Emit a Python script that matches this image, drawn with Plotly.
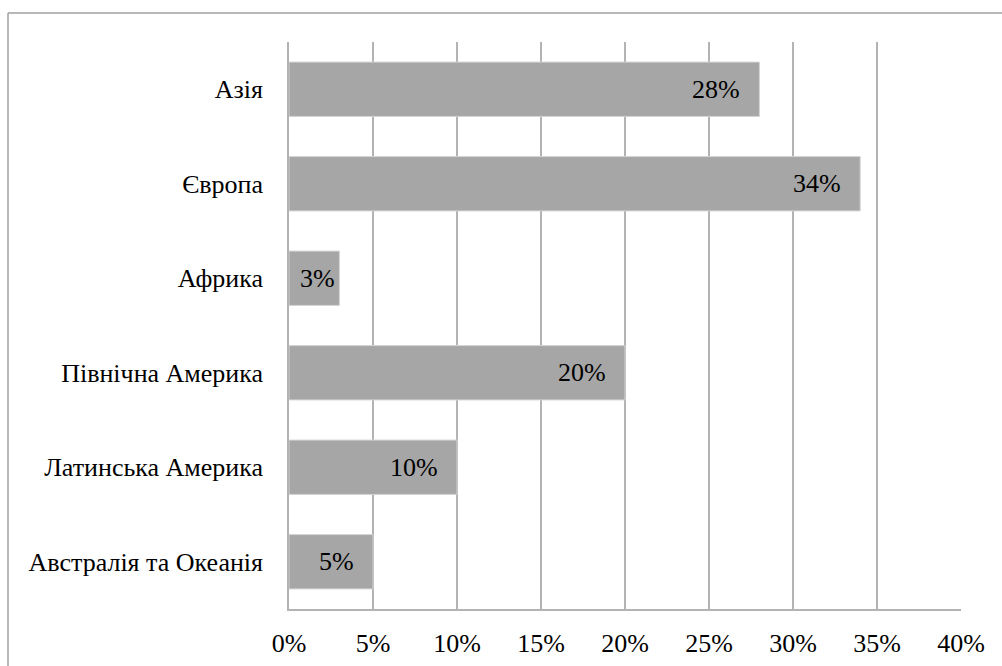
import plotly.graph_objects as go

# Share of each region (percent)
regions = ["Азія", "Європа", "Африка", "Північна Америка",
           "Латинська Америка", "Австралія та Океанія"]
shares = [28, 34, 3, 20, 10, 5]

x_ticks = [0, 5, 10, 15, 20, 25, 30, 35, 40]
x_tick_labels = [f"{v}%" for v in x_ticks]

FONT = "'Times New Roman', 'Liberation Serif', 'DejaVu Serif', serif"
FS = 26
GRID = "#b3b3b3"

W, H = 1002, 666
ML, MR, MT, MB = 289, 41, 42, 57
X_MAX = 40

fig = go.Figure(go.Bar(
    x=shares,
    y=regions,
    orientation="h",
    width=0.575,
    marker=dict(color="#a6a6a6", line=dict(color="#d4d4d4", width=1)),
    hoverinfo="skip",
))

pw = W - ML - MR
ph = H - MT - MB

# value labels placed just inside the bar ends; short bars keep the label inside
for r, v in zip(regions, shares):
    label = f"{v}%"
    bar_px = v * pw / X_MAX
    text_px = FS * (0.5 * (len(label) - 1) + 0.833)
    shift = min(17.0, max(2.0, bar_px - text_px - 16))
    fig.add_annotation(
        x=v, y=r, xref="x", yref="y",
        text=label, showarrow=False,
        xanchor="right", xshift=-shift,
        font=dict(family=FONT, size=FS, color="#000000"),
    )

# outer frame of the chart area
fx = (8 - ML) / pw
fy = (H - MB - 13) / ph
fig.add_shape(type="line", xref="paper", yref="paper",
              x0=fx, y0=fy, x1=fx, y1=-0.2,
              line=dict(color="#a0a0a0", width=1.5))
fig.add_shape(type="line", xref="paper", yref="paper",
              x0=fx, y0=fy, x1=1.2, y1=fy,
              line=dict(color="#a0a0a0", width=1.5))

fig.update_layout(
    width=W, height=H,
    margin=dict(l=ML, r=MR, t=MT, b=MB, autoexpand=False),
    paper_bgcolor="white", plot_bgcolor="white",
    showlegend=False,
    font=dict(family=FONT, size=FS, color="#000000"),
    xaxis=dict(
        range=[0, X_MAX],
        tickvals=x_ticks, ticktext=x_tick_labels,
        showgrid=True, gridcolor=GRID, gridwidth=1.5,
        zeroline=False,
        showline=True, linecolor=GRID, linewidth=1.5,
        ticks="", ticklabelstandoff=10,
        tickfont=dict(family=FONT, size=FS, color="#000000"),
        automargin=False,
        fixedrange=True,
    ),
    yaxis=dict(
        categoryorder="array", categoryarray=regions,
        autorange="reversed",
        showgrid=False, zeroline=False,
        showline=True, linecolor=GRID, linewidth=1.5,
        ticks="", ticklabelstandoff=19,
        tickfont=dict(family=FONT, size=FS, color="#000000"),
        automargin=False,
        fixedrange=True,
    ),
)

fig.write_html("out.html")
